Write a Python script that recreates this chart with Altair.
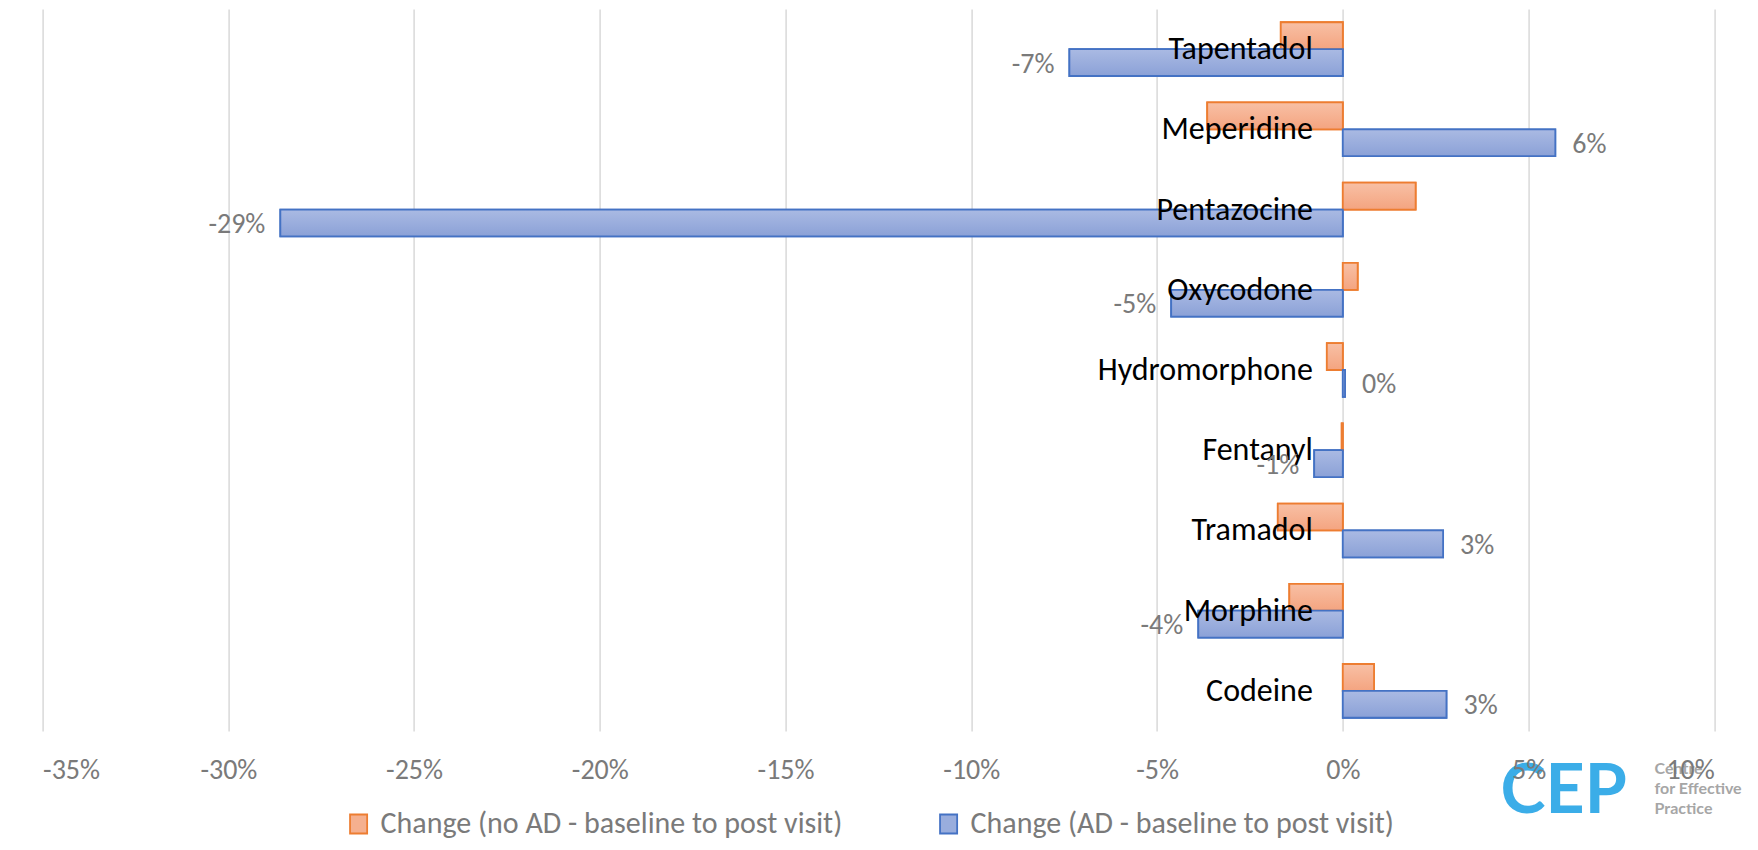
import altair as alt
import pandas as pd

# ---- data ----
drugs = ["Tapentadol", "Meperidine", "Pentazocine", "Oxycodone", "Hydromorphone",
         "Fentanyl", "Tramadol", "Morphine", "Codeine"]
change_no_ad = [-1.67, -3.65, 1.96, 0.40, -0.43, -0.03, -1.75, -1.44, 0.84]
change_ad = [-7.36, 5.72, -28.6, -4.62, 0.06, -0.77, 2.70, -3.89, 2.79]
series_names = ["Change (no AD - baseline to post visit)",
                "Change (AD - baseline to post visit)"]
x_ticks = [-35, -30, -25, -20, -15, -10, -5, 0, 5, 10]
fill_colors = ["#F5B08F", "#99ADDD"]
fill_tops = ["#F8C0A5", "#AABAE3"]
fill_bottoms = ["#F4A480", "#8BA1D7"]
stroke_colors = ["#ED7D31", "#4472C4"]

rows = []
for d, a, b in zip(drugs, change_no_ad, change_ad):
    rows.append({"drug": d, "series": series_names[0], "value": a})
    rows.append({"drug": d, "series": series_names[1], "value": b})
df = pd.DataFrame(rows)
cat_df = pd.DataFrame({"drug": drugs})

FONT = "Carlito, Calibri, Lato, sans-serif"
GRAY = "#7A7A7A"
NUM_SIZE = 28

x_scale = alt.Scale(domain=[-35, 10], nice=False, zero=False)
y_scale = alt.Scale(domain=drugs, paddingInner=0.33, paddingOuter=0.165)
off_scale = alt.Scale(domain=series_names, paddingInner=0, paddingOuter=0)

legend_kw = dict(title=None, orient="none", direction="horizontal",
                 legendX=301, legendY=800,
                 symbolType="M-0.9,-1H0.9V1H-0.9Z", symbolSize=361,
                 symbolStrokeWidth=1.8,
                 labelFont=FONT, labelFontSize=30, labelColor=GRAY,
                 labelOffset=7, columnPadding=91, labelLimit=900)

bars = alt.Chart(df).mark_bar(strokeWidth=1.8).encode(
    x=alt.X("value:Q", scale=x_scale, stack=None,
            axis=alt.Axis(values=x_ticks, grid=True, gridColor="#D9D9D9", gridWidth=1.5,
                          domain=False, ticks=False, labels=False, title=None, zindex=0)),
    x2=alt.datum(0),
    y=alt.Y("drug:N", scale=y_scale, axis=None),
    yOffset=alt.YOffset("series:N", scale=off_scale),
    fill=alt.Fill("series:N", scale=alt.Scale(domain=series_names, range=fill_colors),
                  legend=alt.Legend(**legend_kw)),
    stroke=alt.Stroke("series:N", scale=alt.Scale(domain=series_names, range=stroke_colors),
                      legend=alt.Legend(**legend_kw)),
)

# gradient-filled overlays, one per series (same geometry as the bars above)
grad_layers = []
for i, s in enumerate(series_names):
    grad = alt.Gradient(gradient="linear", x1=0, x2=0, y1=0, y2=1,
                        stops=[alt.GradientStop(color=fill_tops[i], offset=0),
                               alt.GradientStop(color=fill_bottoms[i], offset=1)])
    grad_layers.append(
        alt.Chart(df).transform_filter(alt.datum.series == s).mark_bar(
            fill=grad, stroke=stroke_colors[i], strokeWidth=1.8
        ).encode(
            x=alt.X("value:Q", scale=x_scale, stack=None, axis=None),
            x2=alt.datum(0),
            y=alt.Y("drug:N", scale=y_scale, axis=None),
            yOffset=alt.YOffset("series:N", scale=off_scale),
        )
    )

cats = alt.Chart(cat_df).mark_text(align="right", baseline="middle", dx=-30,
                                   fontSize=32, font=FONT, color="black").encode(
    x=alt.datum(0, scale=x_scale,
                axis=alt.Axis(values=x_ticks, grid=False, domain=False, ticks=False,
                              labels=True, labelFont=FONT, labelFontSize=NUM_SIZE,
                              labelColor=GRAY, labelPadding=26,
                              labelExpr="datum.value + '%'", title=None,
                              orient="bottom", zindex=1)),
    y=alt.Y("drug:N", scale=y_scale, axis=None),
    text="drug:N",
)

lab_base = alt.Chart(df).transform_filter(
    alt.datum.series == series_names[1]
).transform_calculate(
    label="(datum.value < 0 ? '-' : '') + format(abs(datum.value), '.0f') + '%'"
)

lab_enc = dict(
    x=alt.X("value:Q", scale=x_scale, axis=None),
    y=alt.Y("drug:N", scale=y_scale, axis=None),
    yOffset=alt.YOffset("series:N", scale=off_scale),
    text="label:N",
)
neg_labels = lab_base.transform_filter("datum.value < 0").mark_text(
    align="right", baseline="middle", dx=-15, dy=2, fontSize=NUM_SIZE, font=FONT, color=GRAY
).encode(**lab_enc)
pos_labels = lab_base.transform_filter("datum.value >= 0").mark_text(
    align="left", baseline="middle", dx=17, dy=2, fontSize=NUM_SIZE, font=FONT, color=GRAY
).encode(**lab_enc)

one = pd.DataFrame({"k": [0]})
logo_cep = alt.Chart(one).mark_text(align="left", baseline="alphabetic", fontSize=68,
                                    fontWeight="bold", font="Lato", color="#3BADE8").encode(
    x=alt.value(1458), y=alt.value(804), text=alt.value("CEP"))
logo_small = alt.Chart(one).mark_text(align="left", baseline="alphabetic", fontSize=16,
                                      fontWeight="bold", font="Lato", color="#A6A6A6",
                                      lineHeight=20).encode(
    x=alt.value(1612), y=alt.value(765),
    text=alt.value(["Centre", "for Effective", "Practice"]))

chart = alt.layer(logo_cep, logo_small, bars, *grad_layers, cats, neg_labels,
                  pos_labels).resolve_axis(
    x="independent"
).properties(
    width=1671.7, height=722,
    padding={"left": 34.6, "top": 1, "right": 35, "bottom": 111},
    autosize=alt.AutoSizeParams(type="none"),
).configure_view(stroke=None)

chart.save("out.html", embed_options={"renderer": "svg", "actions": False})
